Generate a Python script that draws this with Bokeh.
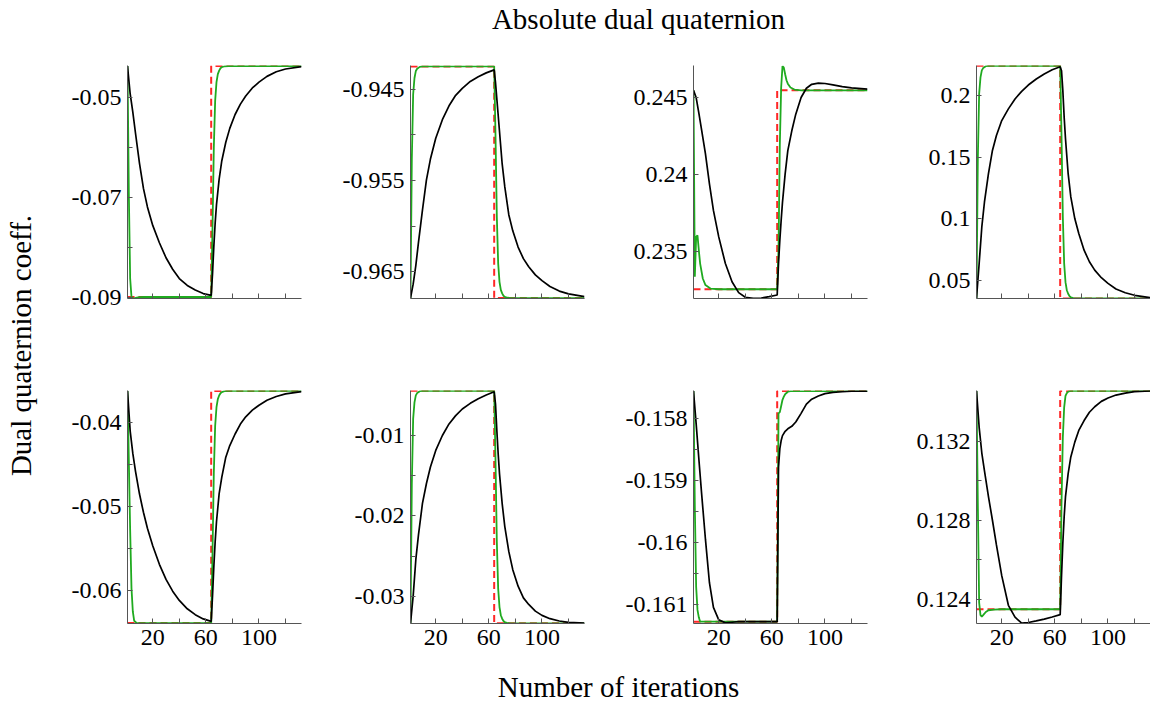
import math
from bokeh.plotting import figure
from bokeh.models import Range1d, FixedTicker, CustomJSTickFormatter, Label
from bokeh.layouts import row, column
from bokeh.embed import file_html
from bokeh.resources import INLINE

# ---------------- data ----------------
XB = [1, 3, 5, 7, 10, 13, 16, 20, 25, 30, 35, 40, 46, 52, 58, 64, 65, 66, 67, 68,
      70, 72, 75, 78, 82, 86, 90, 95, 100, 106, 113, 120, 132]
XG = [1, 2, 3, 4, 5, 6, 8, 10, 14, 20, 40, 64, 65, 66, 67, 68, 69, 70, 71, 72, 74, 77, 82, 132]
XR = [1, 64, 64, 132]

P1_BLACK = [-0.0437, -0.04926, -0.05296, -0.05713, -0.06315, -0.06824, -0.07194, -0.07565, -0.07912,
            -0.08213, -0.08444, -0.0863, -0.08768, -0.08861, -0.08931, -0.08968, -0.08537, -0.07981,
            -0.07518, -0.07148, -0.06639, -0.06268, -0.05898, -0.0562, -0.05342, -0.05134, -0.04972,
            -0.0481, -0.04694, -0.04578, -0.04486, -0.0443, -0.04384]
P1_GREEN = [-0.0437, -0.06916, -0.0863, -0.0900, -0.09028, -0.09028, -0.09014, -0.09005, -0.0900,
            -0.0900, -0.0900, -0.0900, -0.07611, -0.0599, -0.05064, -0.04694, -0.04532, -0.04463,
            -0.04416, -0.04393, -0.04375, -0.0437, -0.0437, -0.0437]
P1_RED = [-0.0900, -0.0900, -0.0437, -0.0437]

P2_BLACK = [-0.9679, -0.96638, -0.96434, -0.9618, -0.95825, -0.95495, -0.95266, -0.95037, -0.94834,
            -0.94682, -0.94567, -0.94491, -0.94415, -0.94364, -0.94321, -0.94288, -0.94428, -0.94606,
            -0.94783, -0.94961, -0.95317, -0.95571, -0.95876, -0.96053, -0.96231, -0.96358, -0.96447,
            -0.96536, -0.96599, -0.96663, -0.96714, -0.96744, -0.96775]
P2_GREEN = [-0.9679, -0.95266, -0.94555, -0.94377, -0.94301, -0.94275, -0.94255, -0.9425, -0.9425,
            -0.9425, -0.9425, -0.9425, -0.95012, -0.95901, -0.96409, -0.96612, -0.96701, -0.96739,
            -0.96765, -0.96777, -0.96787, -0.9679, -0.9679, -0.9679]
P2_RED = [-0.9425, -0.9425, -0.9679, -0.9679]

P3_BLACK = [0.24547, 0.2450, 0.2440, 0.24295, 0.24134, 0.2394, 0.23767, 0.23595, 0.23422, 0.23304,
            0.23233, 0.23203, 0.23196, 0.23198, 0.23207, 0.23218, 0.23422, 0.23573, 0.23703, 0.23821,
            0.24004, 0.24155, 0.24284, 0.24392, 0.245, 0.2456, 0.24586, 0.24593, 0.24591, 0.24582,
            0.24571, 0.24563, 0.24554]
P3_GREEN = [0.24547, 0.23336, 0.23595, 0.23606, 0.23509, 0.23422, 0.23325, 0.23282, 0.23259, 0.23255,
            0.23255, 0.23255, 0.23509, 0.24198, 0.24565, 0.24705, 0.24694, 0.24651, 0.24612, 0.2459,
            0.24565, 0.24552, 0.24547, 0.24547]
P3_RED = [0.23255, 0.23255, 0.24547, 0.24547]

P4_BLACK = [0.0351, 0.0635, 0.0932, 0.1135, 0.1365, 0.1554, 0.1676, 0.1797, 0.1892, 0.1973, 0.2035,
            0.2086, 0.2135, 0.2176, 0.2211, 0.2235, 0.2203, 0.2041, 0.1824, 0.1649, 0.1365, 0.1176,
            0.1000, 0.0878, 0.0743, 0.0649, 0.0581, 0.0519, 0.0473, 0.0427, 0.0397, 0.0376, 0.0357]
P4_GREEN = [0.0351, 0.1486, 0.2016, 0.2148, 0.2205, 0.2224, 0.2239, 0.2243, 0.2243, 0.2243, 0.2243,
            0.2243, 0.1675, 0.1013, 0.0635, 0.0483, 0.0417, 0.0389, 0.0370, 0.0360, 0.0353, 0.0351,
            0.0351, 0.0351]
P4_RED = [0.2243, 0.2243, 0.0351, 0.0351]

P5_BLACK = [-0.03625, -0.0410, -0.0437, -0.0458, -0.0485, -0.0507, -0.0526, -0.0547, -0.0569,
            -0.0587, -0.0601, -0.0612, -0.0622, -0.0629, -0.0634, -0.0637, -0.06071, -0.05716,
            -0.0542, -0.05183, -0.04848, -0.04651, -0.04414, -0.04276, -0.04138, -0.0402, -0.03933,
            -0.03854, -0.03795, -0.03736, -0.03692, -0.03661, -0.03633]
P5_GREEN = [-0.03625, -0.04455, -0.05284, -0.05975, -0.06252, -0.06362, -0.0639, -0.0639, -0.0639,
            -0.0639, -0.0639, -0.0639, -0.0556, -0.04593, -0.0404, -0.03819, -0.03722, -0.0368,
            -0.03653, -0.03639, -0.03628, -0.03625, -0.03625, -0.03625]
P5_RED = [-0.0639, -0.0639, -0.03625, -0.03625]

P6_BLACK = [-0.03338, -0.03, -0.02546, -0.02237, -0.01845, -0.01598, -0.01392, -0.01186, -0.01,
            -0.00856, -0.00753, -0.0067, -0.006, -0.00542, -0.00497, -0.00456, -0.00608, -0.00938,
            -0.01227, -0.01474, -0.01845, -0.02134, -0.02443, -0.0267, -0.02876, -0.03021, -0.03103,
            -0.03186, -0.03239, -0.0328, -0.03309, -0.03326, -0.03334]
P6_GREEN = [-0.03338, -0.01601, -0.0079, -0.00588, -0.00501, -0.00472, -0.00449, -0.00443, -0.00443,
            -0.00443, -0.00443, -0.00443, -0.01311, -0.02325, -0.02904, -0.03135, -0.03237, -0.0328,
            -0.03309, -0.03324, -0.03335, -0.03338, -0.03338, -0.03338]
P6_RED = [-0.00443, -0.00443, -0.03338, -0.03338]

P7_BLACK = [-0.15755, -0.15808, -0.15864, -0.15918, -0.15995, -0.16065, -0.16105, -0.16125, -0.1613,
            -0.16129, -0.16128, -0.16128, -0.16128, -0.16128, -0.16128, -0.16128, -0.15878, -0.15848,
            -0.15835, -0.15827, -0.1582, -0.15816, -0.15812, -0.15805, -0.15791, -0.15776, -0.15768,
            -0.15763, -0.15759, -0.15757, -0.15756, -0.15755, -0.15755]
P7_GREEN = [-0.15755, -0.15942, -0.16072, -0.16109, -0.16121, -0.16128, -0.16128, -0.16128, -0.16128,
            -0.16128, -0.16128, -0.16128, -0.15791, -0.15789, -0.15779, -0.15769, -0.15764, -0.1576,
            -0.15758, -0.15756, -0.15755, -0.15755, -0.15755, -0.15755]
P7_RED = [-0.16128, -0.16128, -0.15755, -0.15755]

P8_BLACK = [0.13454, 0.1327, 0.1314, 0.1305, 0.1292, 0.1280, 0.12675, 0.1252, 0.1237, 0.1231,
            0.1228, 0.12283, 0.12291, 0.123, 0.12311, 0.12323, 0.12517, 0.12685, 0.12818, 0.12919,
            0.13036, 0.1312, 0.13195, 0.13254, 0.13304, 0.13346, 0.13374, 0.13401, 0.13418, 0.13433,
            0.13443, 0.1345, 0.13454]
P8_GREEN = [0.13454, 0.12885, 0.12383, 0.1232, 0.12313, 0.1232, 0.12336, 0.12345, 0.12348, 0.1235,
            0.1235, 0.1235, 0.12885, 0.1322, 0.13371, 0.13429, 0.13443, 0.1345, 0.13453, 0.13454,
            0.13454, 0.13454, 0.13454, 0.13454]
P8_RED = [0.1235, 0.1235, 0.13454, 0.13454]

Y_RANGES = [(-0.0903, -0.0436), (-0.96795, -0.9424), (0.23195, 0.24708), (0.0350, 0.2245),
            (-0.06395, -0.0362), (-0.0334, -0.0044), (-0.16131, -0.15754), (0.12278, 0.13456)]
Y_TICKS = [[-0.09, -0.08, -0.07, -0.06, -0.05],
           [-0.965, -0.96, -0.955, -0.95, -0.945],
           [0.235, 0.24, 0.245],
           [0.05, 0.1, 0.15, 0.2],
           [-0.06, -0.055, -0.05, -0.045, -0.04],
           [-0.03, -0.025, -0.02, -0.015, -0.01],
           [-0.161, -0.1605, -0.16, -0.1595, -0.159, -0.1585, -0.158],
           [0.124, 0.126, 0.128, 0.130, 0.132]]
Y_LABELS = [["-0.09", "", "-0.07", "", "-0.05"],
            ["-0.965", "", "-0.955", "", "-0.945"],
            ["0.235", "0.24", "0.245"],
            ["0.05", "0.1", "0.15", "0.2"],
            ["-0.06", "", "-0.05", "", "-0.04"],
            ["-0.03", "", "-0.02", "", "-0.01"],
            ["-0.161", "", "-0.16", "", "-0.159", "", "-0.158"],
            ["0.124", "", "0.128", "", "0.132"]]
X_TICKS = [20, 40, 60, 80, 100, 120]
X_LABELS = ["20", "", "60", "", "100", ""]

TITLE = "Absolute dual quaternion"
XLABEL = "Number of iterations"
YLABEL = "Dual quaternion coeff."

BLACKS = [P1_BLACK, P2_BLACK, P3_BLACK, P4_BLACK, P5_BLACK, P6_BLACK, P7_BLACK, P8_BLACK]
GREENS = [P1_GREEN, P2_GREEN, P3_GREEN, P4_GREEN, P5_GREEN, P6_GREEN, P7_GREEN, P8_GREEN]
REDS = [P1_RED, P2_RED, P3_RED, P4_RED, P5_RED, P6_RED, P7_RED, P8_RED]

# ---------------- styling / layout ----------------
FONT = "Liberation Serif"
TICK_SIZE = "24px"
LABEL_SIZE = "29px"
AXIS_COLOR = "#555555"
FRAME_W, FRAME_H = 174, 233


def fmt(vals, labs):
    return CustomJSTickFormatter(args=dict(vals=vals, labs=labs), code="""
        let best = 0, bd = Infinity;
        for (let i = 0; i < vals.length; i++) {
            const d = Math.abs(vals[i] - tick);
            if (d < bd) { bd = d; best = i; }
        }
        return labs[best];
    """)


def panel(i):
    bottom = i >= 4
    last = (i % 4) == 3
    p = figure(title=None, frame_width=FRAME_W, frame_height=FRAME_H,
               x_range=Range1d(1, 132), y_range=Range1d(*Y_RANGES[i]),
               output_backend="svg", toolbar_location=None,
               min_border_left=77, min_border_right=0 if last else 32,
               min_border_top=42 if bottom else 15,
               min_border_bottom=40 if bottom else 50)
    p.line(XR, REDS[i], color="#ff2626", line_width=2, line_dash="7 4")
    p.line(XG, GREENS[i], color="#1faa1f", line_width=1.8)
    p.line(XB, BLACKS[i], color="black", line_width=1.7)

    p.xaxis.ticker = FixedTicker(ticks=X_TICKS, minor_ticks=[])
    p.xaxis.formatter = fmt(X_TICKS, X_LABELS if bottom else [""] * len(X_TICKS))
    p.yaxis.ticker = FixedTicker(ticks=Y_TICKS[i], minor_ticks=[])
    p.yaxis.formatter = fmt(Y_TICKS[i], Y_LABELS[i])
    for ax in (p.xaxis[0], p.yaxis[0]):
        ax.major_tick_in = 5
        ax.major_tick_out = 0
        ax.minor_tick_in = 0
        ax.minor_tick_out = 0
        ax.axis_line_color = AXIS_COLOR
        ax.major_tick_line_color = AXIS_COLOR
        ax.major_label_text_font = FONT
        ax.major_label_text_font_size = TICK_SIZE
        ax.major_label_text_color = "black"
        ax.major_label_standoff = 6
    p.grid.visible = False
    p.outline_line_color = None
    return p


def text_fig(w, h, x, y, text, angle=0.0):
    p = figure(title=None, width=w, height=h, x_range=Range1d(0, w), y_range=Range1d(0, h),
               output_backend="svg", toolbar_location=None, min_border=0,
               x_axis_location=None, y_axis_location=None)
    p.grid.visible = False
    p.outline_line_color = None
    p.add_layout(Label(x=x, y=y, text=text, angle=angle, text_align="center",
                       text_baseline="middle", text_font=FONT,
                       text_font_size=LABEL_SIZE, text_color="black"))
    return p


panels = [panel(i) for i in range(8)]
title_fig = text_fig(1150, 50, 638, 32, TITLE)
ylab_fig = text_fig(50, 613, 20, 318, YLABEL, angle=math.pi / 2)
xlab_fig = text_fig(1150, 40, 618, 17, XLABEL)

grid = column(row(*panels[:4]), row(*panels[4:]))
layout = column(title_fig, row(ylab_fig, grid), xlab_fig)

open("out.html", "w").write(file_html(layout, INLINE))
